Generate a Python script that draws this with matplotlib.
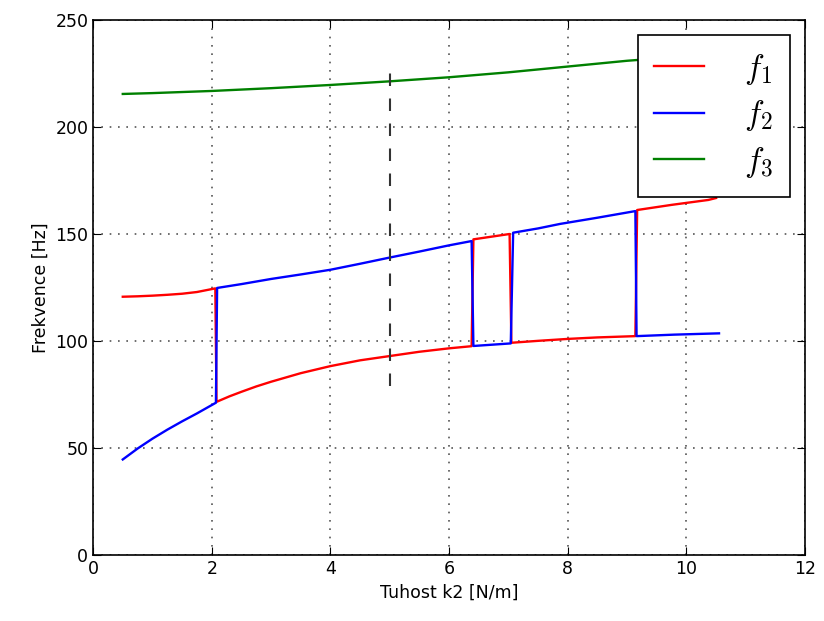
import matplotlib.pyplot as plt
import matplotlib as mpl

mpl.rcParams['mathtext.fontset'] = 'cm'
mpl.rcParams['xtick.direction'] = 'in'
mpl.rcParams['ytick.direction'] = 'in'

# f1 (red) - mode switches at crossings
x_f1 = [0.5, 0.75, 1.0, 1.25, 1.5, 1.75, 2.06,
        2.08, 2.3, 2.5, 2.75, 3.0, 3.5, 4.0, 4.5, 5.0, 5.5, 6.0, 6.38,
        6.41, 7.02,
        7.05, 7.5, 8.0, 8.5, 9.14,
        9.17, 9.75, 10.37, 10.5]
y_f1 = [120.7, 120.9, 121.2, 121.6, 122.1, 122.9, 124.6,
        71.6, 74.2, 76.3, 78.8, 81.0, 85.0, 88.3, 91.0, 93.0, 95.0, 96.6, 97.6,
        147.5, 150.0,
        99.2, 100.1, 101.0, 101.7, 102.3,
        161.2, 163.6, 165.9, 166.8]

# f2 (blue)
x_f2 = [0.5, 0.75, 1.0, 1.25, 1.5, 1.75, 2.07,
        2.09, 2.5, 3.0, 3.5, 4.0, 4.5, 5.0, 5.5, 6.0, 6.38,
        6.41, 7.04,
        7.08, 7.5, 7.87, 8.5, 9.14,
        9.16, 9.8, 10.55]
y_f2 = [44.7, 49.8, 54.4, 58.6, 62.5, 66.2, 71.2,
        124.8, 126.6, 129.0, 131.1, 133.3, 136.1, 139.0, 141.8, 144.7, 146.7,
        97.7, 98.9,
        150.6, 152.6, 154.7, 157.6, 160.7,
        102.3, 103.0, 103.6]

# f3 (green)
x_f3 = [0.5, 1.0, 2.0, 3.0, 4.0, 5.0, 6.0, 7.0, 8.0, 9.0, 10.0, 10.5]
y_f3 = [215.4, 215.8, 216.8, 218.1, 219.6, 221.3, 223.2, 225.5, 228.2, 230.9, 233.0, 234.0]

k2_mark = 5.0
mark_range = [79, 230]

fig = plt.figure(figsize=(8.24, 6.21), dpi=100)
ax = fig.add_axes([0.113, 0.106, 0.864, 0.862])

ax.plot(x_f1, y_f1, color='red', lw=1.7, label='$f_1$')
ax.plot(x_f2, y_f2, color='blue', lw=1.7, label='$f_2$')
ax.plot(x_f3, y_f3, color='green', lw=1.7, label='$f_3$')
ax.plot([k2_mark, k2_mark], mark_range, color='#333333', lw=1.5, dashes=(6, 6))

ax.set_xlim(0, 12)
ax.set_ylim(0, 250)
ax.grid(True, color='#555555', linestyle=(0, (1, 4)), linewidth=1.2)
ax.tick_params(labelsize=12.5, top=True, right=True, length=6)
ax.set_xlabel('Tuhost k2 [N/m]', fontsize=12.5)
ax.set_ylabel('Frekvence [Hz]', fontsize=12.5)
for s in ax.spines.values():
    s.set_linewidth(1.2)

leg = ax.legend(loc='upper right', fontsize=24, fancybox=False, framealpha=1,
                edgecolor='black', handlelength=1.5, borderpad=0.5, labelspacing=0.35,
                handletextpad=1.2, borderaxespad=0.45)
leg.get_frame().set_linewidth(1.2)

fig.savefig('out.png', dpi=100)
